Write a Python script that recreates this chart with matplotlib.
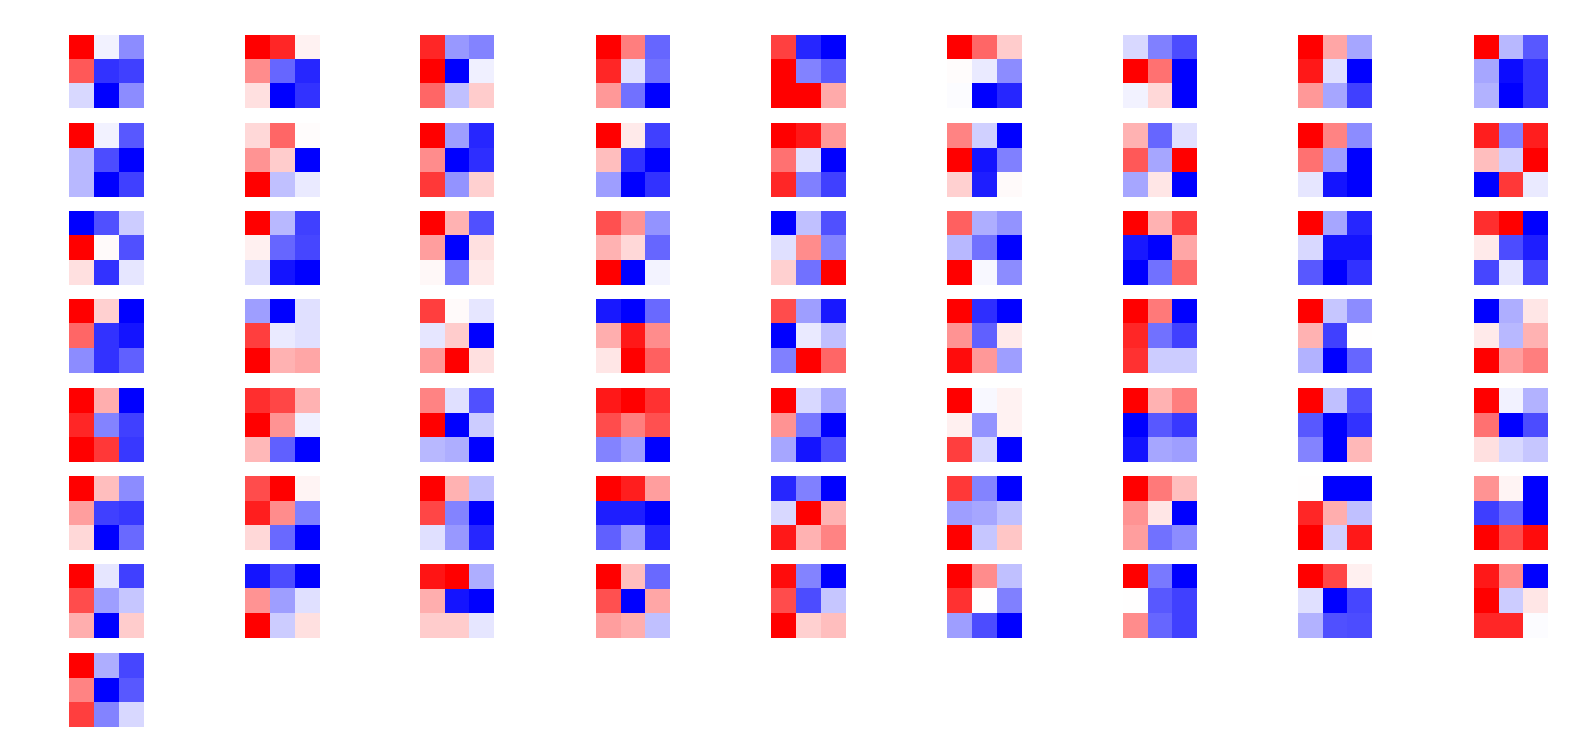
import numpy as np
import matplotlib
matplotlib.use("Agg")
import matplotlib.pyplot as plt

# 64 first-layer 3x3 filters, red = positive, blue = negative (scaled per filter)
row1 = [
    [[1, -0.05, -0.45], [0.65, -0.8, -0.75], [-0.15, -1, -0.45]],
    [[1, 0.85, 0.05], [0.45, -0.6, -0.85], [0.12, -1, -0.8]],
    [[0.85, -0.4, -0.48], [1, -1, -0.06], [0.6, -0.25, 0.2]],
    [[1, 0.5, -0.6], [0.85, -0.12, -0.55], [0.4, -0.55, -1]],
    [[0.7, -0.85, -1], [0.95, -0.5, -0.65], [0.95, 0.95, 0.3]],
    [[1, 0.6, 0.2], [0.01, -0.08, -0.45], [-0.01, -1, -0.85]],
    [[-0.15, -0.5, -0.7], [1, 0.55, -1], [-0.05, 0.15, -1]],
    [[1, 0.35, -0.35], [0.9, -0.12, -1], [0.4, -0.35, -0.75]],
    [[1, -0.28, -0.65], [-0.35, -0.95, -0.8], [-0.3, -1, -0.8]],
]
row2 = [
    [[1, -0.05, -0.65], [-0.28, -0.7, -1], [-0.28, -1, -0.75]],
    [[0.15, 0.6, 0.01], [0.42, 0.2, -1], [1, -0.25, -0.08]],
    [[1, -0.38, -0.85], [0.45, -1, -0.82], [0.78, -0.42, 0.18]],
    [[1, 0.08, -0.75], [0.25, -0.8, -1], [-0.38, -1, -0.8]],
    [[1, 0.9, 0.4], [0.55, -0.12, -1], [0.85, -0.5, -0.75]],
    [[0.48, -0.18, -1], [1, -0.92, -0.5], [0.18, -0.88, 0.02]],
    [[0.3, -0.6, -0.12], [0.65, -0.35, 1], [-0.35, 0.1, -1]],
    [[1, 0.48, -0.45], [0.55, -0.38, -1], [-0.1, -0.92, -1]],
    [[0.88, -0.48, 0.88], [0.25, -0.18, 1], [-1, 0.78, -0.08]],
]
row3 = [
    [[-1, -0.68, -0.2], [1, 0.02, -0.68], [0.12, -0.8, -0.1]],
    [[1, -0.28, -0.75], [0.06, -0.6, -0.72], [-0.14, -0.92, -1]],
    [[1, 0.3, -0.68], [0.38, -1, 0.12], [0.03, -0.52, 0.08]],
    [[0.68, 0.42, -0.42], [0.3, 0.15, -0.6], [1, -1, -0.04]],
    [[-1, -0.25, -0.68], [-0.12, 0.45, -0.48], [0.18, -0.55, 1]],
    [[0.62, -0.32, -0.42], [-0.28, -0.55, -1], [1, -0.03, -0.45]],
    [[1, 0.3, 0.75], [-0.9, -1, 0.35], [-1, -0.55, 0.6]],
    [[1, -0.35, -0.85], [-0.15, -0.92, -0.92], [-0.65, -1, -0.8]],
    [[0.82, 1, -1], [0.08, -0.7, -0.88], [-0.72, -0.1, -0.72]],
]
row4 = [
    [[1, 0.18, -1], [0.6, -0.8, -0.92], [-0.45, -0.8, -0.62]],
    [[-0.38, -1, -0.12], [0.75, -0.08, -0.12], [1, 0.3, 0.35]],
    [[0.75, 0.02, -0.1], [-0.1, 0.2, -1], [0.4, 1, 0.12]],
    [[-0.9, -1, -0.58], [0.32, 0.9, 0.45], [0.1, 1, 0.62]],
    [[0.7, -0.38, -0.9], [-1, -0.08, -0.25], [-0.5, 1, 0.6]],
    [[1, -0.82, -1], [0.42, -0.62, 0.08], [0.95, 0.4, -0.38]],
    [[1, 0.52, -1], [0.85, -0.55, -0.75], [0.8, -0.2, -0.2]],
    [[1, -0.22, -0.45], [0.3, -0.75, 0.0], [-0.3, -1, -0.6]],
    [[-1, -0.32, 0.1], [0.08, -0.28, 0.3], [1, 0.38, 0.5]],
]
row5 = [
    [[1, 0.32, -1], [0.85, -0.48, -0.75], [1, 0.78, -0.78]],
    [[0.82, 0.72, 0.3], [1, 0.42, -0.06], [0.28, -0.62, -1]],
    [[0.48, -0.12, -0.68], [1, -1, -0.2], [-0.28, -0.32, -1]],
    [[0.9, 1, 0.8], [0.7, 0.5, 0.68], [-0.48, -0.38, -1]],
    [[1, -0.15, -0.35], [0.42, -0.52, -1], [-0.35, -0.92, -0.68]],
    [[1, -0.03, 0.05], [0.06, -0.42, 0.05], [0.75, -0.15, -1]],
    [[1, 0.3, 0.5], [-1, -0.65, -0.78], [-0.92, -0.35, -0.38]],
    [[1, -0.25, -0.68], [-0.65, -1, -0.8], [-0.48, -1, 0.28]],
    [[1, -0.05, -0.3], [0.55, -1, -0.7], [0.12, -0.15, -0.22]],
]
row6 = [
    [[1, 0.25, -0.45], [0.38, -0.75, -0.78], [0.15, -1, -0.58]],
    [[0.7, 1, 0.04], [0.88, 0.45, -0.5], [0.15, -0.58, -1]],
    [[1, 0.3, -0.25], [0.72, -0.48, -1], [-0.12, -0.4, -0.85]],
    [[1, 0.88, 0.38], [-0.88, -0.88, -1], [-0.62, -0.38, -0.85]],
    [[-0.85, -0.5, -1], [-0.15, 1, 0.3], [0.9, 0.3, 0.48]],
    [[0.78, -0.48, -1], [-0.38, -0.35, -0.25], [1, -0.22, 0.22]],
    [[1, 0.52, 0.25], [0.42, 0.1, -1], [0.38, -0.55, -0.45]],
    [[0.0, -1, -1], [0.85, 0.32, -0.25], [1, -0.18, 0.9]],
    [[0.45, 0.1, -0.88], [-0.65, -0.5, -0.88], [1, 0.72, 0.95]],
]
row7 = [
    [[1, -0.1, -0.75], [0.7, -0.38, -0.22], [0.32, -1, 0.2]],
    [[-0.92, -0.7, -1], [0.42, -0.38, -0.12], [1, -0.2, 0.12]],
    [[0.92, 1, -0.32], [0.32, -0.92, -1], [0.2, 0.2, -0.1]],
    [[1, 0.25, -0.58], [0.68, -1, 0.35], [0.38, 0.32, -0.25]],
    [[0.95, -0.48, -1], [0.7, -0.7, -0.22], [1, 0.18, 0.25]],
    [[1, 0.45, -0.25], [0.8, 0.0, -0.5], [-0.38, -0.7, -1]],
    [[1, -0.52, -1], [0.0, -0.65, -0.75], [0.45, -0.6, -0.75]],
    [[1, 0.72, 0.06], [-0.12, -1, -0.72], [-0.3, -0.68, -0.7]],
    [[0.9, 0.45, -1], [1, -0.2, 0.1], [0.85, 0.85, -0.01]],
]
row8 = [
    [[1, -0.32, -0.72], [0.48, -1, -0.65], [0.75, -0.48, -0.15]],
]

filters = row1 + row2 + row3 + row4 + row5 + row6 + row7 + row8

fig = plt.figure(figsize=(15.87, 7.5), dpi=100)
W, H = 1587.0, 750.0
ncols = 9
for i, f in enumerate(filters):
    r, c = divmod(i, ncols)
    x0 = 69 + c * 175.6
    y0 = 34.5 + r * 88.3
    ax = fig.add_axes([x0 / W, 1 - (y0 + 74) / H, 74 / W, 74 / H])
    f = np.array(f)
    ax.imshow(f, cmap="bwr", vmin=f.min(), vmax=f.max(), interpolation="nearest")
    ax.axis("off")

plt.savefig("out.png", dpi=100)
